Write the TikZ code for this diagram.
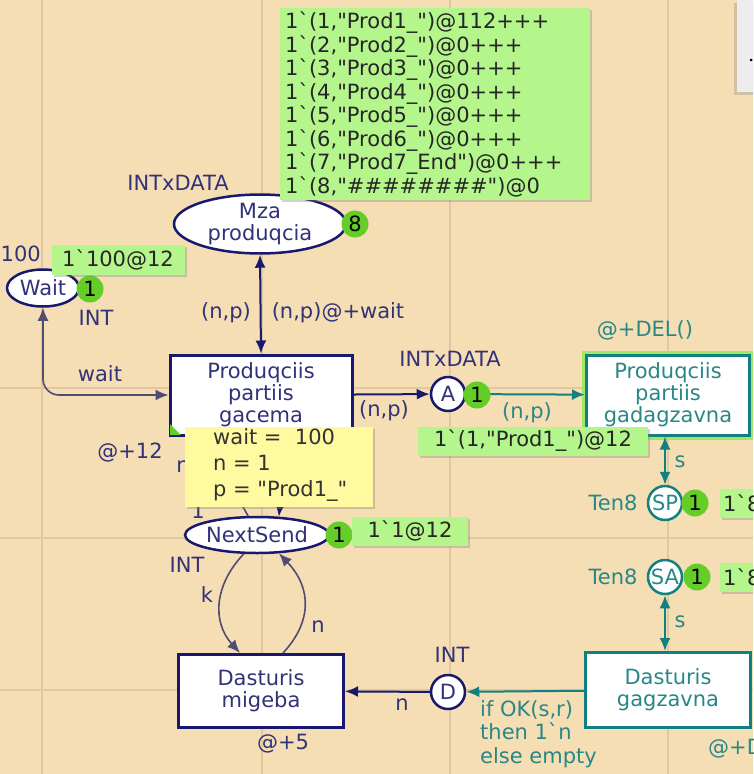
\documentclass[tikz,border=0pt]{standalone}
\usepackage{fontspec}
\setmainfont{DejaVu Sans}[Ligatures=TeXOff]
\usetikzlibrary{arrows.meta,shapes.geometric,shadows}

\definecolor{bgtan}{RGB}{245,222,179}
\definecolor{gridtan}{RGB}{224,200,160}
\definecolor{cpnnavy}{RGB}{24,24,110}
\definecolor{navytext}{RGB}{50,50,120}
\definecolor{arcgray}{RGB}{80,76,115}
\definecolor{cpnteal}{RGB}{16,128,128}
\definecolor{tealtext}{RGB}{40,135,135}
\definecolor{markgreen}{RGB}{180,245,140}
\definecolor{tokgreen}{RGB}{100,205,40}
\definecolor{halogreen}{RGB}{160,232,100}
\definecolor{bindyellow}{RGB}{255,250,160}

\tikzset{
  place/.style={ellipse, draw=cpnnavy, line width=2.5pt, fill=white, text=navytext, inner sep=0pt, align=center},
  port/.style={circle, draw=cpnnavy, line width=2.5pt, fill=white, text=navytext, inner sep=0pt, minimum size=34pt},
  tport/.style={port, draw=cpnteal, text=tealtext},
  trans/.style={rectangle, draw=cpnnavy, line width=3pt, fill=white, text=navytext, align=center, inner sep=0pt},
  ttrans/.style={trans, draw=cpnteal, text=tealtext},
  token/.style={circle, fill=tokgreen, inner sep=0pt, minimum size=27pt, text=black},
  marking/.style={rectangle, fill=markgreen, inner sep=3pt, text=black!85,
    drop shadow={shadow xshift=2pt, shadow yshift=-2pt, opacity=0.35}},
  lbl/.style={text=navytext, inner sep=0pt},
  tlbl/.style={text=tealtext, inner sep=0pt},
  arc/.style={draw=cpnnavy, line width=2pt},
  thinarc/.style={draw=arcgray, line width=1.6pt},
  tarc/.style={draw=cpnteal, line width=2pt},
}

\begin{document}
\begin{tikzpicture}[x=1pt,y=-1pt,font=\fontsize{21}{22}\selectfont,>={Latex[length=13pt,width=11pt]}]
  \useasboundingbox (0,0) rectangle (753,774);
  \clip (0,0) rectangle (753,774);
  \fill[bgtan] (0,0) rectangle (753,774);
  \foreach \gx in {42,262,450,668}
    \draw[gridtan,line width=2pt] (\gx,0) -- (\gx,774);
  \foreach \gy in {388,538,690}
    \draw[gridtan,line width=2pt] (0,\gy) -- (753,\gy);

  % popup at the top right
  \node[rectangle, fill=white!93!black, minimum width=30pt, minimum height=92pt, anchor=north west, inner sep=0pt,
    drop shadow={shadow xshift=-3pt, shadow yshift=-3pt, opacity=0.3}] (popup) at (737,0) {};
  \fill (751,60) circle (1.5pt);

  % places
  \node[place, minimum width=172pt, minimum height=57pt] (mza) at (260,224) {Mza\\produqcia};
  \node[place, minimum width=72pt, minimum height=37pt] (wait) at (43,288) {Wait};
  \node[place, minimum width=136pt, minimum height=36pt] (nextsend) at (257,535) {NextSend};
  \node[port] (A) at (448,394) {A};
  \node[port] (D) at (448,692) {D};
  \node[tport] (SP) at (665,503) {SP};
  \node[tport] (SA) at (665,577) {SA};

  % transitions
  \node[trans, minimum width=182pt, minimum height=80pt] (gacema) at (261,395) {Produqciis\\partiis\\gacema};
  \node[ttrans, minimum width=163pt, minimum height=80pt,
    preaction={draw=halogreen, line width=9pt}] (gadag) at (668,395) {Produqciis\\partiis\\gadagzavna};
  \node[ttrans, minimum width=165pt, minimum height=75pt] (gagzav) at (668,690) {Dasturis\\gagzavna};
  \node[trans, minimum width=165pt, minimum height=73pt] (migeba) at (261,691) {Dasturis\\migeba};
  \fill[tokgreen] ([shift={(1.5pt,1.5pt)}]gacema.south west) -- ++(11pt,0pt) -- ++(-11pt,11pt) -- cycle;

  % arcs
  \draw[arc,<->] (mza.south) -- (gacema.north);
  \draw[thinarc,<->,rounded corners=16pt] (wait.south) |- (gacema.west);
  \draw[arc,->] (gacema) -- (A);
  \draw[tarc,->] (A) -- (gadag);
  \draw[tarc,<->] (gadag.south -| SP) -- (SP);
  \draw[tarc,<->] (SA) -- (gagzav.north -| SA);
  \draw[tarc,->] (gagzav) -- (D);
  \draw[arc,->] (D) -- (migeba);
  \draw[thinarc,->] (nextsend.235) .. controls (214,585) and (212,622) .. ([xshift=-21pt]migeba.north);
  \draw[thinarc,->] ([xshift=22pt]migeba.north) .. controls (312,622) and (312,588) .. (nextsend.320);
  \draw[thinarc,->] (nextsend.115) -- ([xshift=-58pt]gacema.south);
  \draw[arc,->] ([xshift=26pt]gacema.south) -- (nextsend.40);

  % inscriptions
  \node[lbl] (lwait) at (100,374) {wait};
  \node[lbl] (lnp1) at (226,313) {(n,p)};
  \node[lbl] (lnp2) at (338,313) {(n,p)@+wait};
  \node[lbl] (lnpA) at (384,411) {(n,p)};
  \node[tlbl] (lnpB) at (527,413) {(n,p)};
  \node[tlbl] (ls1) at (680,462) {s};
  \node[tlbl] (ls2) at (680,622) {s};
  \node[tlbl, align=left, anchor=north west, font=\fontsize{21}{23.5}\selectfont] (lcond) at (480,700) {if OK(s,r)\\then 1`n\\else empty};
  \node[lbl] (lnD) at (402,705) {n};
  \node[lbl] (lk) at (207,595) {k};
  \node[lbl] (ln) at (318,627) {n};
  \node[lbl] (l5) at (283,744) {@+5};
  \node[tlbl] (ldel) at (645,330) {@+DEL()};
  \node[tlbl, anchor=west] (ldel2) at (708,748) {@+DEL()};
  \node[lbl] (l12) at (130,453) {@+12};
  \node[lbl] (lnn) at (183,467) {n};
  \node[lbl] (l1) at (198,511) {1};
  \node[lbl, anchor=east] (ltime) at (41,254) {100};

  % colour sets
  \node[lbl] (cs1) at (178,183) {INTxDATA};
  \node[lbl] (cs2) at (96,318) {INT};
  \node[lbl] (cs3) at (450,359) {INTxDATA};
  \node[tlbl] (cs4) at (613,503) {Ten8};
  \node[tlbl] (cs5) at (613,577) {Ten8};
  \node[lbl] (cs6) at (452,655) {INT};
  \node[lbl] (cs7) at (187,565) {INT};

  % tokens
  \node[token] (tkmza) at (355,224) {8};
  \node[token] (tkwait) at (90,289) {1};
  \node[token] (tkA) at (477,395) {1};
  \node[token] (tkSP) at (695,503) {1};
  \node[token] (tkSA) at (697,577) {1};
  \node[token] (tkns) at (339,535) {1};

  % markings
  \node[marking, anchor=north west, text width=300pt, inner xsep=5pt, minimum height=192pt, align=left,
    font=\fontsize{21}{23.5}\selectfont] (mkmza) at (280,8)
    {1`(1,"Prod1\_")@112+++\\1`(2,"Prod2\_")@0+++\\1`(3,"Prod3\_")@0+++\\1`(4,"Prod4\_")@0+++\\
     1`(5,"Prod5\_")@0+++\\1`(6,"Prod6\_")@0+++\\1`(7,"Prod7\_End")@0+++\\1`(8,"\#\#\#\#\#\#\#\#")@0};
  \node[marking, minimum width=133pt, minimum height=30pt] (mkwait) at (118,260) {1`100@12};
  \node[marking, minimum width=230pt, minimum height=29pt] (mkA) at (533,441) {1`(1,"Prod1\_")@12};
  \node[marking, minimum width=116pt, minimum height=29pt] (mkns) at (410,531) {1`1@12};
  \node[marking, anchor=west, minimum height=29pt] (mkSP) at (720,503) {1`8};
  \node[marking, anchor=west, minimum height=29pt] (mkSA) at (720,577) {1`8};

  % binding
  \node[rectangle, fill=bindyellow, anchor=north west, minimum width=188pt, minimum height=80pt, inner sep=0pt,
    drop shadow={shadow xshift=2pt, shadow yshift=-2pt, opacity=0.35}] (bind) at (185,427) {};
  \node[anchor=west, align=left, inner sep=0pt, text=black!80, font=\fontsize{21}{26}\selectfont] (bindtxt) at (213,465)
    {wait =\ \ 100\\n = 1\\p = "Prod1\_"};
\end{tikzpicture}
\end{document}
